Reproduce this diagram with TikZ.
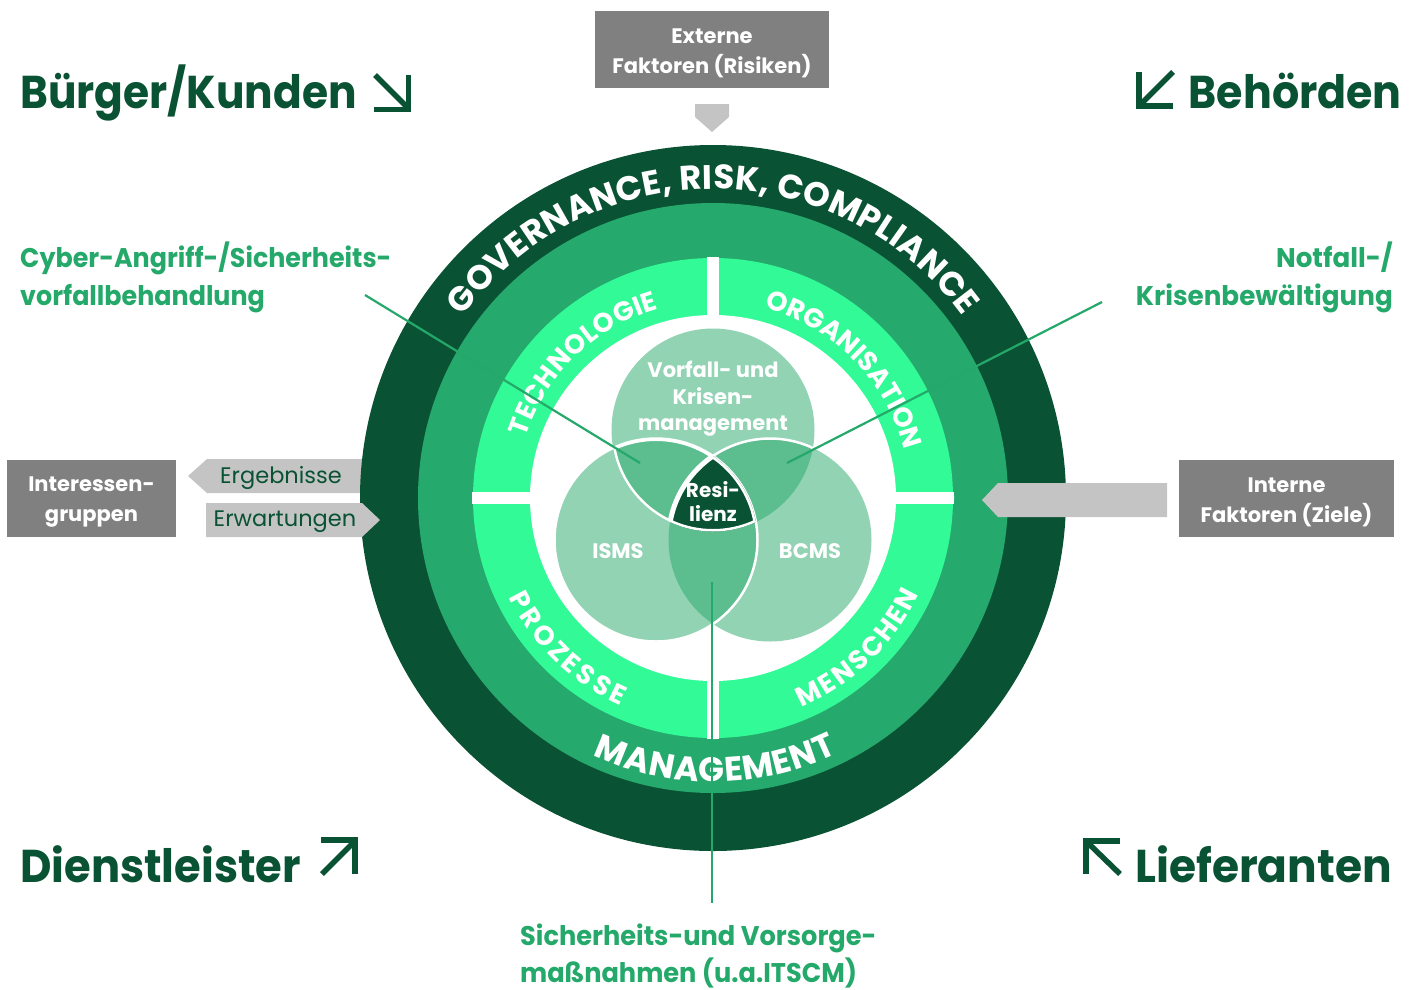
\documentclass[tikz,border=0pt]{standalone}
\usepackage{fontspec}
\setmainfont{Poppins}
\usetikzlibrary{decorations.text}
\definecolor{dgreen}{HTML}{0A5234}
\definecolor{mgreen}{HTML}{26A96C}
\definecolor{bgreen}{HTML}{31FA97}
\definecolor{vgreen}{HTML}{27A86B}
\definecolor{lgreen}{HTML}{24A96A}
\definecolor{boxgray}{HTML}{808080}
\definecolor{arrgray}{HTML}{C4C4C4}
\newcommand\ringbig{\fontsize{34}{34}\selectfont\bfseries}
\newcommand\ringsmall{\fontsize{27}{27}\selectfont\bfseries}
\newcommand\sqz[2]{\scalebox{#1}[1]{#2}}
\tikzset{
  graybox/.style={fill=boxgray, inner sep=0pt},
  graytext/.style={text=white, align=center, inner sep=0pt,
    font=\fontsize{21}{30}\selectfont\bfseries},
  corner/.style={text=dgreen, inner sep=0pt, font=\fontsize{46}{46}\selectfont\bfseries},
  cornerarrow/.style={draw=dgreen, line width=5.5pt},
  sidelabel/.style={text=lgreen, inner sep=0pt, font=\fontsize{27}{38}\selectfont\bfseries},
  venntext/.style={text=white, align=center, inner sep=0pt, font=\fontsize{21}{26.5}\selectfont\bfseries},
  arrowtext/.style={text=dgreen, inner sep=0pt, font=\fontsize{22.5}{22.5}\selectfont},
  leader/.style={draw=lgreen, line width=2.2pt},
  vennfill/.style={fill=vgreen, fill opacity=0.5},
}
\begin{document}
\begin{tikzpicture}[x=1pt,y=1pt]
\useasboundingbox (0,0) rectangle (1421,-989);
\coordinate (C) at (713,-498);

% Ergebnisse arrow (behind circle)
\fill[arrgray] (188,-476) -- (207,-459) -- (380,-459) -- (380,-493) -- (207,-493) -- cycle;
\node[arrowtext] (erg) at (281,-478) {Ergebnisse};

% rings
\fill[dgreen] (C) circle[radius=353];
\fill[mgreen] (C) circle[radius=295];
\fill[bgreen] (C) circle[radius=240];
\fill[white] (C) circle[radius=183];
\begin{scope}
  \clip (C) circle[radius=241];
  \fill[white] (707,-250) rectangle (719,-750);
  \fill[white] (465,-492) rectangle (961,-504);
\end{scope}

% ring texts
\path[decorate, decoration={text along path, text color=white, text align=fit to path,
  text={|\ringbig|GOVERNANCE, RISK, COMPLIANCE}}]
  (C) ++(144:309) arc[start angle=144, end angle=36, radius=309];
\path[decorate, decoration={text along path, text color=white, text align=fit to path,
  text={|\ringbig|MANAGEMENT}}]
  (C) ++(245:284) arc[start angle=245, end angle=296, radius=284];
\path[decorate, decoration={text along path, text color=white, text align=fit to path,
  text={|\ringsmall|TECHNOLOGIE}}]
  (C) ++(162:197) arc[start angle=162, end angle=106, radius=197];
\path[decorate, decoration={text along path, text color=white, text align=fit to path,
  text={|\ringsmall|ORGANISATION}}]
  (C) ++(75:197) arc[start angle=75, end angle=16, radius=197];
\path[decorate, decoration={text along path, text color=white, text align=fit to path,
  text={|\ringsmall|PROZESSE}}]
  (C) ++(206:227) arc[start angle=206, end angle=246, radius=227];
\path[decorate, decoration={text along path, text color=white, text align=fit to path,
  text={|\ringsmall|MENSCHEN}}]
  (C) ++(293:227) arc[start angle=293, end angle=335, radius=227];

% Venn
\coordinate (VT) at (713,-430);
\coordinate (VL) at (656,-540);
\coordinate (VR) at (770,-540);
\fill[vennfill] (VT) circle[radius=101.5];
\fill[vennfill] (VL) circle[radius=101.5];
\fill[vennfill] (VR) circle[radius=101.5];
\draw[white, line width=2.5pt] (VL) circle[radius=101.5];
\begin{scope}
  \clip (VT) circle[radius=101.5];
  \draw[white, line width=2.5pt] (VR) circle[radius=101.5];
\end{scope}
\begin{scope}
  \clip (VT) circle[radius=101.5];
  \clip (VL) circle[radius=101.5];
  \fill[dgreen] (VR) circle[radius=101.5];
  \draw[white, line width=5pt] (VT) circle[radius=101.5] (VL) circle[radius=101.5] (VR) circle[radius=101.5];
\end{scope}
\node[venntext] (vork) at (713,-399) {Vorfall- und\\Krisen-\\management};
\node[venntext] (isms) at (618,-551) {ISMS};
\node[venntext] (bcms) at (810,-551) {BCMS};
\node[venntext, font=\fontsize{20}{24}\selectfont\bfseries] (resi) at (713,-502) {Resi-\\lienz};

% Erwartungen and Interne arrows (on top)
\fill[arrgray] (206,-503) -- (362,-503) -- (380,-520) -- (362,-537) -- (206,-537) -- cycle;
\node[arrowtext] (erw) at (285,-522) {Erwartungen};
\fill[arrgray] (1167,-483) -- (998,-483) -- (982,-500) -- (998,-517) -- (1167,-517) -- cycle;
\fill[arrgray] (695,-104) -- (729,-104) -- (729,-117) -- (712,-132) -- (695,-117) -- cycle;

% gray boxes
\node[graybox, minimum width=234, minimum height=77] (ext) at (712,-49.5) {};
\node[graytext] (extT) at (712,-53.5) {Externe\\Faktoren (Risiken)};
\node[graybox, minimum width=169, minimum height=77] (int) at (91.5,-498.5) {};
\node[graytext] (intT) at (91.5,-502.5) {Interessen-\\gruppen};
\node[graybox, minimum width=215, minimum height=77] (intf) at (1286.5,-498.5) {};
\node[graytext] (intfT) at (1286.5,-502) {Interne\\Faktoren (Ziele)};

% side labels
\node[sidelabel, anchor=base west] (cy1) at (20,-267) {\sqz{0.94}{Cyber-Angriff-/Sicherheits-}};
\node[sidelabel, anchor=base west] (cy2) at (20,-305) {\sqz{0.94}{vorfallbehandlung}};
\node[sidelabel, anchor=base east] (nf1) at (1393,-267) {\sqz{0.97}{Notfall-/}};
\node[sidelabel, anchor=base east] (nf2) at (1393,-305) {\sqz{0.97}{Krisenbewältigung}};
\node[sidelabel, anchor=base west] (si1) at (520,-945) {\sqz{0.95}{Sicherheits-und Vorsorge-}};
\node[sidelabel, anchor=base west] (si2) at (520,-982) {\sqz{0.95}{maßnahmen (u.a.ITSCM)}};

% leader lines
\coordinate (l1a) at (365,-295);
\coordinate (l1b) at (640,-463);
\coordinate (l2a) at (1102,-302);
\coordinate (l2b) at (787,-463);
\coordinate (l3a) at (712,-582);
\coordinate (l3b) at (712,-903);
\draw[leader] (l1a) -- (l1b);
\draw[leader] (l2a) -- (l2b);
\draw[leader] (l3a) -- (l3b);

% corner labels
\node[corner, anchor=base west] (bk) at (20,-108) {\sqz{0.92}{Bürger/Kunden}};
\node[corner, anchor=base east] (bh) at (1402,-108) {\sqz{0.93}{Behörden}};
\node[corner, anchor=base west] (dl) at (20,-882) {\sqz{0.94}{Dienstleister}};
\node[corner, anchor=base east] (lf) at (1392,-882) {\sqz{0.955}{Lieferanten}};

% corner arrows
\draw[cornerarrow] (374,-109.5) -- (408.5,-109.5) -- (408.5,-75);
\draw[cornerarrow] (375,-75) -- (407,-107);
\draw[cornerarrow] (1173,-106) -- (1139,-106) -- (1139,-72);
\draw[cornerarrow] (1173,-72) -- (1141,-104);
\draw[cornerarrow] (321,-840) -- (355,-840) -- (355,-874);
\draw[cornerarrow] (322,-874) -- (353,-843);
\draw[cornerarrow] (1120,-841) -- (1086,-841) -- (1086,-874);
\draw[cornerarrow] (1120,-874) -- (1088,-843);
\end{tikzpicture}
\end{document}
